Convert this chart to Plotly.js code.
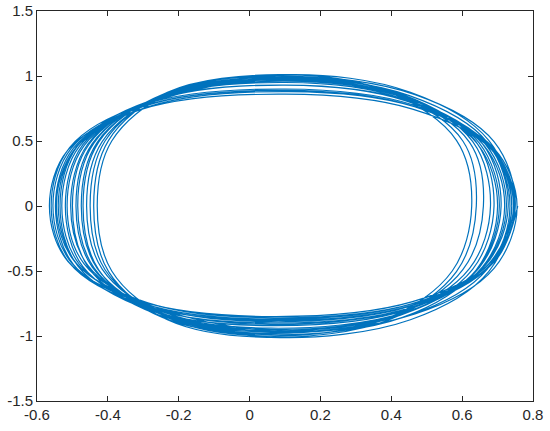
<!DOCTYPE html>
<html>
<head>
<meta charset="utf-8">
<script src="https://cdn.plot.ly/plotly-3.0.1.min.js"></script>
<style>
  html, body { margin: 0; padding: 0; background: #fff; }
  #phase { width: 550px; height: 431px; }
</style>
</head>
<body>
<div id="phase"></div>
<script>
// trajectory, 12 points a loop, clockwise from the right edge
var trajX = [
  0.757, 0.691, 0.468, 0.070, -0.287, -0.493, -0.545, -0.493, -0.287, 0.110, 0.468, 0.691,
  0.755, 0.690, 0.467, 0.070, -0.284, -0.489, -0.540, -0.489, -0.284, 0.110, 0.467, 0.690,
  0.750, 0.684, 0.460, 0.060, -0.300, -0.508, -0.560, -0.508, -0.300, 0.100, 0.460, 0.684,
  0.750, 0.684, 0.460, 0.060, -0.303, -0.513, -0.565, -0.513, -0.303, 0.100, 0.460, 0.684,
  0.748, 0.682, 0.458, 0.060, -0.293, -0.497, -0.548, -0.497, -0.293, 0.100, 0.458, 0.682,
  0.745, 0.680, 0.457, 0.060, -0.297, -0.503, -0.555, -0.503, -0.297, 0.100, 0.457, 0.680,
  0.740, 0.675, 0.454, 0.060, -0.276, -0.471, -0.520, -0.471, -0.276, 0.100, 0.454, 0.675,
  0.740, 0.675, 0.454, 0.060, -0.273, -0.467, -0.515, -0.467, -0.273, 0.100, 0.454, 0.675,
  0.735, 0.671, 0.451, 0.060, -0.282, -0.480, -0.530, -0.480, -0.282, 0.100, 0.451, 0.671,
  0.730, 0.666, 0.448, 0.060, -0.267, -0.457, -0.505, -0.457, -0.267, 0.100, 0.448, 0.666,
  0.725, 0.662, 0.446, 0.060, -0.285, -0.485, -0.535, -0.485, -0.285, 0.100, 0.446, 0.662,
  0.720, 0.657, 0.443, 0.060, -0.258, -0.444, -0.490, -0.444, -0.258, 0.100, 0.443, 0.657,
  0.710, 0.648, 0.437, 0.060, -0.255, -0.439, -0.485, -0.439, -0.255, 0.100, 0.437, 0.648,
  0.705, 0.644, 0.434, 0.060, -0.264, -0.453, -0.500, -0.453, -0.264, 0.100, 0.434, 0.644,
  0.700, 0.639, 0.432, 0.060, -0.246, -0.425, -0.470, -0.425, -0.246, 0.100, 0.432, 0.639,
  0.690, 0.630, 0.426, 0.060, -0.240, -0.416, -0.460, -0.416, -0.240, 0.100, 0.426, 0.630,
  0.680, 0.621, 0.420, 0.060, -0.249, -0.430, -0.475, -0.430, -0.249, 0.100, 0.420, 0.621,
  0.660, 0.602, 0.405, 0.050, -0.238, -0.408, -0.450, -0.408, -0.238, 0.090, 0.405, 0.602,
  0.640, 0.584, 0.394, 0.050, -0.232, -0.398, -0.440, -0.398, -0.232, 0.090, 0.394, 0.584,
  0.627, 0.572, 0.386, 0.050, -0.226, -0.389, -0.430, -0.389, -0.226, 0.090
];
var trajY = [
  0, -0.430, -0.745, -0.860, -0.745, -0.430, 0, 0.440, 0.762, 0.880, 0.762, 0.440,
  0, -0.480, -0.831, -0.960, -0.762, -0.440, 0, 0.455, 0.788, 0.990, 0.857, 0.495,
  0, -0.440, -0.762, -0.880, -0.762, -0.440, 0, 0.450, 0.779, 0.900, 0.779, 0.450,
  0, -0.425, -0.736, -0.850, -0.736, -0.425, 0, 0.430, 0.745, 0.860, 0.745, 0.430,
  0, -0.450, -0.779, -0.900, -0.779, -0.450, 0, 0.445, 0.771, 0.890, 0.771, 0.445,
  0, -0.435, -0.753, -0.870, -0.753, -0.435, 0, 0.445, 0.771, 0.890, 0.771, 0.445,
  0, -0.505, -0.875, -1.010, -0.805, -0.465, 0, 0.470, 0.814, 1.010, 0.875, 0.505,
  0, -0.445, -0.771, -0.890, -0.771, -0.445, 0, 0.465, 0.805, 0.930, 0.805, 0.465,
  0, -0.485, -0.840, -0.970, -0.779, -0.450, 0, 0.460, 0.797, 0.980, 0.849, 0.490,
  0, -0.455, -0.788, -0.910, -0.788, -0.455, 0, 0.475, 0.823, 0.950, 0.823, 0.475,
  0, -0.460, -0.797, -0.920, -0.797, -0.460, 0, 0.465, 0.805, 0.930, 0.805, 0.465,
  0, -0.470, -0.814, -0.940, -0.814, -0.470, 0, 0.480, 0.831, 0.960, 0.831, 0.480,
  0, -0.475, -0.823, -0.950, -0.823, -0.475, 0, 0.485, 0.840, 0.970, 0.840, 0.485,
  0, -0.480, -0.831, -0.960, -0.831, -0.480, 0, 0.475, 0.823, 0.950, 0.823, 0.475,
  0, -0.495, -0.857, -0.990, -0.857, -0.495, 0, 0.495, 0.857, 0.990, 0.857, 0.495,
  0, -0.485, -0.840, -0.970, -0.840, -0.485, 0, 0.495, 0.857, 0.990, 0.857, 0.495,
  0, -0.480, -0.831, -0.960, -0.831, -0.480, 0, 0.490, 0.849, 0.980, 0.849, 0.490,
  0, -0.490, -0.849, -0.980, -0.849, -0.490, 0, 0.500, 0.866, 1.000, 0.866, 0.500,
  0, -0.505, -0.875, -1.010, -0.875, -0.505, 0, 0.505, 0.875, 1.010, 0.875, 0.505,
  0, -0.500, -0.866, -1.000, -0.866, -0.500, 0, 0.500, 0.866, 1.000
];
var xTicks = [-0.6, -0.4, -0.2, 0, 0.2, 0.4, 0.6, 0.8];
var xTickText = ['-0.6', '-0.4', '-0.2', '0', '0.2', '0.4', '0.6', '0.8'];
var yTicks = [-1.5, -1, -0.5, 0, 0.5, 1, 1.5];
var yTickText = ['-1.5', '-1', '-0.5', '0', '0.5', '1', '1.5'];

var orbit = {
  x: trajX,
  y: trajY,
  mode: 'lines',
  type: 'scatter',
  line: {color: '#0072BD', width: 1.2, shape: 'spline', smoothing: 1},
  hoverinfo: 'none',
  showlegend: false
};

var axisStyle = {
  showgrid: false,
  zeroline: false,
  showline: true,
  linecolor: '#262626',
  linewidth: 1,
  mirror: 'ticks',
  ticks: 'inside',
  ticklen: 5,
  tickwidth: 1,
  tickcolor: '#262626',
  tickfont: {family: 'Liberation Sans, Arial, sans-serif', size: 15, color: '#262626'}
};

var layout = {
  width: 550,
  height: 431,
  margin: {l: 37, r: 17, t: 11, b: 30},
  paper_bgcolor: '#fff',
  plot_bgcolor: '#fff',
  xaxis: Object.assign({}, axisStyle, {
    range: [-0.6, 0.8],
    tickvals: xTicks,
    ticktext: xTickText
  }),
  yaxis: Object.assign({}, axisStyle, {
    range: [-1.5, 1.5],
    tickvals: yTicks,
    ticktext: yTickText
  })
};

Plotly.newPlot('phase', [orbit], layout, {staticPlot: true, displayModeBar: false});
</script>
</body>
</html>
